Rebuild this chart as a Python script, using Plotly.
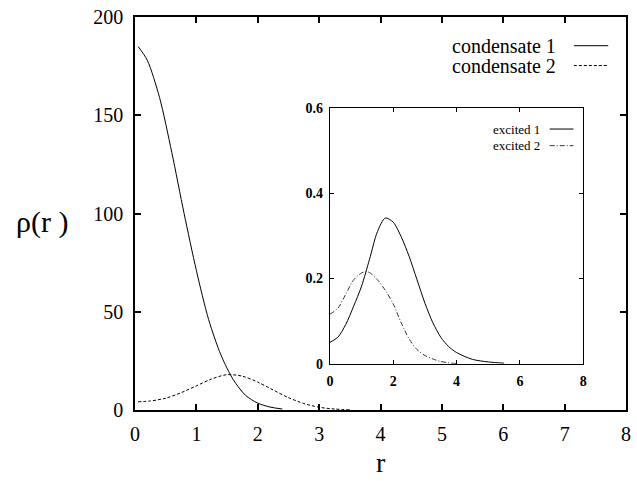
import plotly.graph_objects as go

# ---- main plot data ----
r_c1 = [0.05, 0.2, 0.4, 0.6, 0.8, 1.0, 1.2, 1.4, 1.6, 1.8, 2.0, 2.2, 2.4]
rho_c1 = [185, 178, 159, 131, 100, 71, 46, 28, 15.5, 7.5, 3.5, 1.5, 0.5]

r_c2 = [0.05, 0.25, 0.5, 0.75, 1.0, 1.25, 1.5, 1.75, 2.0, 2.25, 2.5, 2.75, 3.0, 3.25, 3.5]
rho_c2 = [4.2, 4.6, 6.0, 8.8, 12.3, 15.8, 18.0, 17.2, 14.2, 10.2, 6.3, 3.3, 1.4, 0.5, 0.1]

# ---- inset data ----
r_e1 = [0.0, 0.25, 0.5, 0.75, 1.0, 1.25, 1.5, 1.75, 2.0, 2.25, 2.5, 2.75, 3.0, 3.25, 3.5, 3.75, 4.0, 4.5, 5.0, 5.5]
rho_e1 = [0.05, 0.062, 0.092, 0.135, 0.182, 0.245, 0.31, 0.342, 0.332, 0.298, 0.252, 0.197, 0.142, 0.096, 0.062, 0.04, 0.026, 0.01, 0.004, 0.001]

r_e2 = [0.0, 0.25, 0.5, 0.75, 1.0, 1.15, 1.25, 1.5, 1.75, 2.0, 2.25, 2.5, 2.75, 3.0, 3.25, 3.5, 4.0]
rho_e2 = [0.116, 0.13, 0.163, 0.197, 0.213, 0.216, 0.214, 0.197, 0.172, 0.14, 0.096, 0.058, 0.033, 0.019, 0.011, 0.005, 0.0]

main_names = ["condensate 1", "condensate 2"]
inset_names = ["excited 1", "excited 2"]

main_xticks = [0, 1, 2, 3, 4, 5, 6, 7, 8]
main_yticks = [0, 50, 100, 150, 200]
inset_xticks = [0, 2, 4, 6, 8]
inset_yticks = [0, 0.2, 0.4, 0.6]
inset_ytext = ["0", "0.2", "0.4", "0.6"]

SERIF = "Liberation Serif"

fig = go.Figure()
fig.add_trace(go.Scatter(x=r_c1, y=rho_c1, mode="lines", name=main_names[0],
                         line=dict(color="black", width=1, shape="spline", smoothing=0.8),
                         xaxis="x", yaxis="y"))
fig.add_trace(go.Scatter(x=r_c2, y=rho_c2, mode="lines", name=main_names[1],
                         line=dict(color="black", width=1, dash="3px,2px", shape="spline", smoothing=0.8),
                         xaxis="x", yaxis="y"))
fig.add_trace(go.Scatter(x=r_e1, y=rho_e1, mode="lines", name=inset_names[0],
                         line=dict(color="black", width=1, shape="spline", smoothing=0.8),
                         xaxis="x2", yaxis="y2"))
fig.add_trace(go.Scatter(x=r_e2, y=rho_e2, mode="lines", name=inset_names[1],
                         line=dict(color="#333333", width=1, dash="5px,2px,1px,2px", shape="spline", smoothing=0.8),
                         xaxis="x2", yaxis="y2"))

axis_common = dict(showline=True, linecolor="black", mirror="ticks", ticks="inside",
                   tickcolor="black", showgrid=False, zeroline=False)

fig.update_layout(
    width=637, height=481,
    margin=dict(l=135, r=6, t=13, b=71),
    paper_bgcolor="white", plot_bgcolor="white",
    showlegend=False,
    font=dict(family=SERIF, color="black"),
    xaxis=dict(range=[0, 8], tickvals=main_xticks, ticklen=6, linewidth=1.5, tickwidth=1.5,
               tickfont=dict(size=20, family=SERIF), ticklabelstandoff=5, **axis_common),
    yaxis=dict(range=[0, 200], tickvals=main_yticks, ticklen=6, linewidth=1.5, tickwidth=1.5,
               tickfont=dict(size=20, family=SERIF), ticklabelstandoff=6, **axis_common),
    xaxis2=dict(range=[0, 8], tickvals=inset_xticks, ticklen=4, linewidth=1.2, tickwidth=1,
                domain=[0.397, 0.913], anchor="y2",
                tickfont=dict(size=14, family=SERIF, weight="bold"), ticklabelstandoff=4, **axis_common),
    yaxis2=dict(range=[0, 0.6], tickvals=inset_yticks, ticktext=inset_ytext, ticklen=4, linewidth=1.2,
                tickwidth=1, domain=[0.118, 0.768], anchor="x2",
                tickfont=dict(size=14, family=SERIF, weight="bold"), ticklabelstandoff=3, **axis_common),
)

annotations = []
shapes = []
# main legend (gnuplot style: text then line sample)
main_leg_y = [185.4, 175.3]
main_dash = ["solid", "3px,2px"]
for name, yv, dsh in zip(main_names, main_leg_y, main_dash):
    annotations.append(dict(x=6.89, y=yv, xref="x", yref="y", text=name, showarrow=False,
                            xanchor="right", yanchor="middle", font=dict(size=20, family=SERIF)))
    shapes.append(dict(type="line", xref="x", yref="y", x0=7.15, x1=7.71, y0=yv, y1=yv,
                       line=dict(color="black", width=1, dash=dsh)))
# inset legend
inset_leg_y = [0.551, 0.512]
inset_dash = ["solid", "5px,2px,1px,2px"]
inset_col = ["black", "#333333"]
for name, yv, dsh, col in zip(inset_names, inset_leg_y, inset_dash, inset_col):
    annotations.append(dict(x=6.69, y=yv, xref="x2", yref="y2", text=name, showarrow=False,
                            xanchor="right", yanchor="middle", font=dict(size=13, family=SERIF)))
    shapes.append(dict(type="line", xref="x2", yref="y2", x0=6.94, x1=7.69, y0=yv, y1=yv,
                       line=dict(color=col, width=1, dash=dsh)))
# axis titles
annotations.append(dict(x=-0.19, y=0.479, xref="paper", yref="paper", text="ρ(r )", showarrow=False,
                        xanchor="center", yanchor="middle", font=dict(size=30, family=SERIF)))
annotations.append(dict(x=0.5, y=-0.1763, xref="paper", yref="paper", text="r", showarrow=False,
                        xanchor="center", yanchor="bottom", borderpad=0,
                        font=dict(size=28, family=SERIF)))

fig.update_layout(annotations=annotations, shapes=shapes)

fig.write_html("out.html", config={"displayModeBar": False},
               post_script="document.body.style.margin='0px';document.body.style.overflow='hidden';")
